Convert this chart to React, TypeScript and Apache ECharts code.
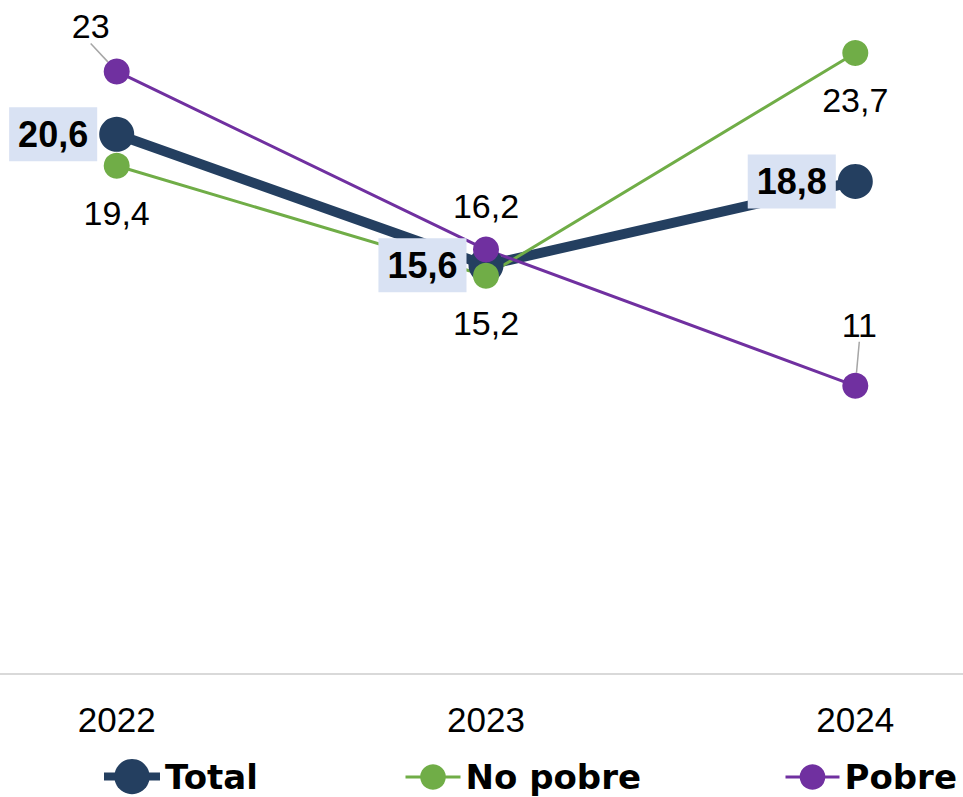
import React, { useEffect, useRef } from 'react';
import * as echarts from 'echarts';

const years = ['2022', '2023', '2024'];
const totalValues = [20.6, 15.6, 18.8];
const noPobreValues = [19.4, 15.2, 23.7];
const pobreValues = [23, 16.2, 11];

const NAVY = '#243F60';
const GREEN = '#70AD47';
const PURPLE = '#7030A0';
const FONT = 'Liberation Sans';
const LEGEND_FONT = 'DejaVu Sans';

const fmt = (v: number) => String(v).replace('.', ',');

export default function App() {
  const ref = useRef<HTMLDivElement>(null);
  useEffect(() => {
    if (!ref.current) return;
    const chart = echarts.init(ref.current, undefined, { renderer: 'svg' });
    const plainLabel = {
      show: true,
      position: 'inside',
      color: '#000',
      fontSize: 34,
      fontFamily: FONT,
      formatter: (p: any) => fmt(p.value),
    };
    const legendText = {
      fontSize: 34,
      lineHeight: 34,
      fontWeight: 'bold',
      color: '#000',
      fontFamily: LEGEND_FONT,
    };
    const option: any = {
      animation: false,
      textStyle: { fontFamily: FONT },
      grid: [
        { left: 116.7, right: 107.7, top: 19, bottom: 123, containLabel: false },
        { left: 0, right: 0, top: 19, bottom: 123, containLabel: false },
      ],
      xAxis: [
        {
          type: 'category',
          gridIndex: 0,
          data: years,
          boundaryGap: false,
          axisLine: { show: false },
          axisTick: { show: false },
          splitLine: { show: false },
          axisLabel: { color: '#000', fontSize: 35, fontFamily: FONT, margin: 28 },
        },
        {
          type: 'value',
          gridIndex: 1,
          min: 0,
          max: 1,
          axisLine: { show: true, lineStyle: { color: '#D9D9D9', width: 2 } },
          axisTick: { show: false },
          axisLabel: { show: false },
          splitLine: { show: false },
        },
      ],
      yAxis: [
        { type: 'value', gridIndex: 0, min: 0, max: 25, show: false, splitLine: { show: false } },
        { type: 'value', gridIndex: 1, min: 0, max: 1, show: false, splitLine: { show: false } },
      ],
      legend: [
        {
          data: ['Total'], left: 100, top: 759, padding: 0, itemWidth: 56, itemHeight: 44, itemGap: 0,
          lineStyle: { width: 8 },
          textStyle: legendText,
        },
        {
          data: ['No pobre'], left: 404, top: 760, padding: 0, itemWidth: 55, itemHeight: 32, itemGap: 0,
          lineStyle: { width: 3 },
          textStyle: legendText,
        },
        {
          data: ['Pobre'], left: 784, top: 760, padding: 0, itemWidth: 54, itemHeight: 32, itemGap: 0,
          lineStyle: { width: 3 },
          textStyle: legendText,
        },
      ],
      series: [
        {
          name: 'Total',
          type: 'line',
          data: totalValues,
          symbol: 'circle',
          symbolSize: 35,
          lineStyle: { color: NAVY, width: 10 },
          itemStyle: { color: NAVY },
          label: {
            show: true,
            position: 'left',
            distance: 2,
            color: '#000',
            fontSize: 36,
            fontWeight: 'bold',
            fontFamily: FONT,
            backgroundColor: '#D9E2F3',
            padding: [9, 9],
            formatter: (p: any) => fmt(p.value),
          },
        },
        {
          name: 'No pobre',
          type: 'line',
          data: noPobreValues,
          symbol: 'circle',
          symbolSize: 26,
          lineStyle: { color: GREEN, width: 3 },
          itemStyle: { color: GREEN },
          label: { ...plainLabel, offset: [0, 47] },
        },
        {
          name: 'Pobre',
          type: 'line',
          data: [
            { value: pobreValues[0] },
            { value: pobreValues[1], labelLine: { show: false } },
            { value: pobreValues[2] },
          ],
          symbol: 'circle',
          symbolSize: 26,
          lineStyle: { color: PURPLE, width: 3 },
          itemStyle: { color: PURPLE },
          label: { ...plainLabel },
          labelLine: { show: true, lineStyle: { color: '#A6A6A6', width: 1.5 } },
          labelLayout: (params: any) => {
            if (params.dataIndex === 0) return { dx: -26, dy: -45 };
            if (params.dataIndex === 1) return { dy: -44 };
            return { dx: 4, dy: -61 };
          },
        },
      ],
    };
    chart.setOption(option);
    return () => chart.dispose();
  }, []);
  return (
    <div
      ref={ref}
      style={{ position: 'fixed', left: 0, top: 0, width: 963, height: 797, background: '#fff' }}
    />
  );
}
